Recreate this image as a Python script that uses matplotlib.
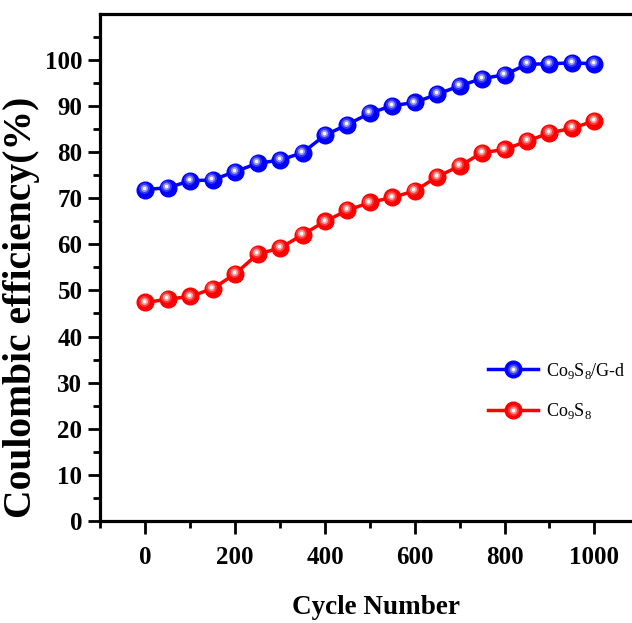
import numpy as np
import matplotlib
matplotlib.use('Agg')
import matplotlib.pyplot as plt
from matplotlib.transforms import ScaledTranslation
from matplotlib.legend_handler import HandlerTuple

plt.rcParams['font.family'] = ['Liberation Serif', 'DejaVu Serif']
plt.rcParams['mathtext.fontset'] = 'custom'
plt.rcParams['mathtext.rm'] = 'Liberation Serif'

# cycle numbers and coulombic efficiency (%)
cycles = np.arange(0, 1001, 50)
ce_gd = [71.9, 72.3, 73.8, 74.0, 75.8, 77.6, 78.3, 79.9, 83.7, 86.0, 88.5,
         90.1, 90.8, 92.6, 94.4, 96.0, 96.8, 99.1, 99.2, 99.4, 99.2]
ce_bare = [47.4, 48.1, 48.7, 50.4, 53.6, 57.9, 59.2, 62.1, 65.0, 67.4, 69.1,
           70.2, 71.6, 74.7, 77.0, 79.9, 80.6, 82.4, 84.2, 85.2, 86.8]

labels = [r'Co$_{\mathregular{9}}$S$_{\mathregular{8}}$/G-d',
          r'Co$_{\mathregular{9}}$S$_{\mathregular{8}}$']
colors = ['#0000ff', '#ff0000']
tints = [['#3a3aff', '#9a9aff'], ['#ff3a3a', '#ffa0a0']]

fig = plt.figure(figsize=(6.32, 6.23), dpi=100)
ax = fig.add_axes([0.159, 0.164, 0.8525, 0.8135])

# shift the highlight up-left on each ball
hl = ax.transData + ScaledTranslation(-1.0 / 72, 1.3 / 72, fig.dpi_scale_trans)

handles = []
for y, c, (t1, t2) in zip([ce_gd, ce_bare], colors, tints):
    base, = ax.plot(cycles, y, '-o', color=c, lw=2.5, ms=12,
                    mec=c, mfc=c, zorder=3)
    glow, = ax.plot(cycles, y, 'o', ms=7.8, mfc=t1, mec='none',
                    transform=hl, zorder=4)
    mid, = ax.plot(cycles, y, 'o', ms=5, mfc=t2, mec='none',
                   transform=hl, zorder=5)
    top, = ax.plot(cycles, y, 'o', ms=2.5, mfc='white', mec='none',
                   transform=hl, zorder=6)
    handles.append((base, glow, mid, top))

ax.legend(handles, labels, handler_map={tuple: HandlerTuple(ndivide=1, pad=0)},
          loc='center left', bbox_to_anchor=(0.702, 0.256), frameon=False,
          borderpad=0, fontsize=13, handlelength=2.8, handletextpad=0.4,
          labelspacing=1.15)

ax.set_xlim(-100, 1100)
ax.set_ylim(0, 110)
ax.set_xticks(np.arange(0, 1001, 200))
ax.set_xticks(np.arange(-100, 1001, 200), minor=True)
ax.set_yticks(np.arange(0, 101, 10))
ax.set_yticks(np.arange(5, 106, 10), minor=True)

for side in ['left', 'bottom', 'top']:
    ax.spines[side].set_linewidth(2.3)
ax.spines['right'].set_visible(False)

ax.tick_params(which='major', direction='out', length=9, width=2,
               labelsize=18)
ax.tick_params(which='minor', direction='out', length=5, width=2)
ax.tick_params(axis='x', which='major', pad=9)
ax.tick_params(axis='y', which='major', pad=4)
ax.tick_params(top=False, right=False, which='both')
for t in ax.get_xticklabels() + ax.get_yticklabels():
    t.set_fontweight('bold')

ax.set_xlabel('Cycle Number', fontsize=19.5, fontweight='bold')
ax.set_ylabel('Coulombic efficiency(%)', fontsize=28.5, fontweight='bold')
ax.xaxis.set_label_coords(0.511, -0.146)
ax.yaxis.set_label_coords(-0.112, 0.422)

fig.savefig('out.png', dpi=100)
